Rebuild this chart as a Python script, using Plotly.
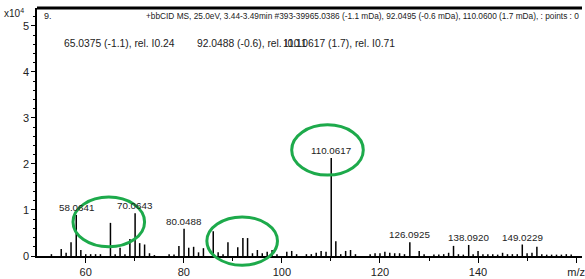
import plotly.graph_objects as go

# ---- data (intensity in units of 10^4 counts) ----
mz = [53, 55, 56, 57, 58.0641, 59, 60, 61, 62, 63, 65.0375, 66, 67, 68, 69, 70.0643, 71, 72, 73, 74,
      77, 78, 79, 80.0488, 81, 82, 83, 84, 86, 87, 88, 89, 91, 92.0488, 93, 94, 95, 96, 97, 98, 99,
      101, 102, 103, 105, 106, 107, 108, 109, 110.0617, 111, 112, 113, 114, 115, 118, 119, 120, 121,
      122, 123, 124, 125, 126.0925, 128, 129, 131, 132, 133, 134, 135, 136, 137, 138.0920, 139, 140,
      141, 142, 143, 144, 145, 146, 147, 148, 149.0229, 150, 151, 152, 153, 154, 155, 156, 157, 158, 159]
intensity = [0.04, 0.15, 0.07, 0.30, 0.89, 0.13, 0.04, 0.04, 0.04, 0.04, 0.72, 0.04, 0.18, 0.04, 0.37, 0.93, 0.28, 0.25, 0.06, 0.02,
             0.04, 0.03, 0.22, 0.59, 0.18, 0.20, 0.08, 0.17, 0.54, 0.08, 0.04, 0.30, 0.19, 0.39, 0.39, 0.06, 0.13, 0.06, 0.09, 0.13, 0.04,
             0.09, 0.11, 0.04, 0.04, 0.04, 0.07, 0.11, 0.09, 2.13, 0.32, 0.04, 0.11, 0.13, 0.04, 0.04, 0.06, 0.06, 0.09,
             0.07, 0.06, 0.06, 0.04, 0.30, 0.11, 0.04, 0.03, 0.03, 0.04, 0.07, 0.22, 0.04, 0.03, 0.24, 0.04, 0.11,
             0.04, 0.04, 0.04, 0.03, 0.07, 0.04, 0.04, 0.04, 0.25, 0.06, 0.07, 0.20, 0.04, 0.03, 0.03, 0.03, 0.03, 0.04, 0.03]

label_mz = [58.0641, 70.0643, 80.0488, 110.0617, 126.0925, 138.0920, 149.0229]
label_text = ["58.0641", "70.0643", "80.0488", "110.0617", "126.0925", "138.0920", "149.0229"]

x_tickvals = [60, 80, 100, 120, 140, 160]
x_ticktext = ["60", "80", "100", "120", "140", "m/z"]
y_tickvals = [0, 1, 2, 3, 4, 5]
y_ticktext = ["0", "1", "2", "3", "4", "5"]

header = "+bbCID MS, 25.0eV, 3.44-3.49min #393-39965.0386 (-1.1 mDa), 92.0495 (-0.6 mDa), 110.0600 (1.7 mDa), : points : 0"
compound_notes = ["65.0375 (-1.1), rel. I0.24", "92.0488 (-0.6), rel. I0.11", "110.0617 (1.7), rel. I0.71"]

# ellipse highlight regions (m/z range, intensity range)
ellipses = [(57.4, 72.0, 0.20, 1.28), (84.7, 99.1, -0.20, 0.85), (102.0, 116.6, 1.76, 2.85)]

X_RANGE = [50.06, 161.2]
Y_RANGE = [0, 5.39]
FONT = "Liberation Sans, Arial, sans-serif"

# ---- stick spectrum ----
xs, ys = [], []
for m, h in zip(mz, intensity):
    xs += [m, m, None]
    ys += [0, h, None]

fig = go.Figure()
fig.add_trace(go.Scatter(x=xs, y=ys, mode="lines", line=dict(color="black", width=1.5),
                         hoverinfo="skip", showlegend=False, cliponaxis=False))

lookup = dict(zip(mz, intensity))
for m, t in zip(label_mz, label_text):
    fig.add_annotation(x=m, y=lookup[m], text=t, showarrow=False, yanchor="bottom", yshift=0,
                       font=dict(family=FONT, size=9.8, color="#222"))

def xp_of(v): return (v - X_RANGE[0]) / (X_RANGE[1] - X_RANGE[0])
def yp_of(v): return (v - Y_RANGE[0]) / (Y_RANGE[1] - Y_RANGE[0])

# ellipses in paper coords so they are not clipped at the axis
for x0, x1, y0, y1 in ellipses:
    fig.add_shape(type="circle", xref="paper", yref="paper",
                  x0=xp_of(x0), x1=xp_of(x1), y0=yp_of(y0), y1=yp_of(y1),
                  line=dict(color="#1DAA4B", width=3))

# top thick border
fig.add_shape(type="line", xref="paper", yref="paper", x0=0, x1=1, y0=1, y1=1,
              line=dict(color="black", width=3))

L, T, W, H = 37, 8, 548, 248
def px(xp): return (xp - L) / W
def py(yp): return (T + H - yp) / H

fig.add_annotation(xref="paper", yref="paper", x=px(584), y=py(16), xanchor="right", yanchor="middle",
                   text=header, showarrow=False, font=dict(family=FONT, size=8.3, color="#222"))
fig.add_annotation(xref="paper", yref="paper", x=px(42), y=py(16), xanchor="left", yanchor="middle",
                   text="9.", showarrow=False, font=dict(family=FONT, size=9, color="#222"))
fig.add_annotation(xref="paper", yref="paper", x=px(2), y=py(13), xanchor="left", yanchor="middle",
                   text="x10<sup>4</sup>", showarrow=False, font=dict(family=FONT, size=10, color="#222"))
for xp, t in zip([62, 196, 282], compound_notes):
    fig.add_annotation(xref="paper", yref="paper", x=px(xp), y=py(44), xanchor="left", yanchor="middle",
                       text=t, showarrow=False, font=dict(family=FONT, size=10.3, color="#222"))

fig.update_layout(
    width=585, height=279,
    margin=dict(l=L, r=0, t=T, b=23),
    paper_bgcolor="white", plot_bgcolor="white",
    xaxis=dict(range=X_RANGE, showgrid=False, zeroline=False, showline=True,
               linecolor="black", linewidth=2, ticks="outside", ticklen=5, tickcolor="black",
               tickvals=x_tickvals, ticktext=x_ticktext, ticklabeloverflow="allow",
               minor=dict(dtick=10, tick0=50, ticks="outside", ticklen=3, tickcolor="black"),
               tickfont=dict(family=FONT, size=11, color="#222")),
    yaxis=dict(range=Y_RANGE, showgrid=False, zeroline=False, showline=True,
               linecolor="black", linewidth=1.5, ticks="outside", ticklen=4, tickcolor="black",
               tickvals=y_tickvals, ticktext=y_ticktext,
               minor=dict(dtick=0.2, ticks="outside", ticklen=2, tickcolor="black"),
               tickfont=dict(family=FONT, size=11, color="#222")),
)

fig.write_html("out.html", config={"displayModeBar": False},
               post_script="document.body.style.margin='0';document.body.style.padding='0';")
